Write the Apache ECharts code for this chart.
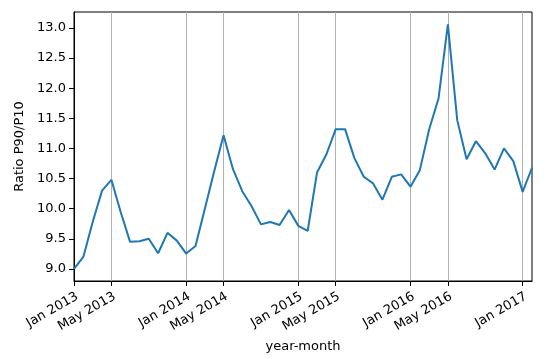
<!DOCTYPE html>
<html>
<head>
<meta charset="utf-8">
<script src="https://cdn.jsdelivr.net/npm/echarts@6/dist/echarts.min.js"></script>
<style>
  html, body { margin: 0; padding: 0; background: #fff; }
  #chart { width: 555px; height: 359px; }
</style>
</head>
<body>
<div id="chart"></div>
<script>
// Months from Jan 2013 to Feb 2017
const months = [
  '2013-01','2013-02','2013-03','2013-04','2013-05','2013-06','2013-07','2013-08','2013-09','2013-10','2013-11','2013-12',
  '2014-01','2014-02','2014-03','2014-04','2014-05','2014-06','2014-07','2014-08','2014-09','2014-10','2014-11','2014-12',
  '2015-01','2015-02','2015-03','2015-04','2015-05','2015-06','2015-07','2015-08','2015-09','2015-10','2015-11','2015-12',
  '2016-01','2016-02','2016-03','2016-04','2016-05','2016-06','2016-07','2016-08','2016-09','2016-10','2016-11','2016-12',
  '2017-01','2017-02'
];
const ratio = [
  9.00, 9.20, 9.78, 10.30, 10.48, 9.94, 9.45, 9.46, 9.50, 9.26, 9.60, 9.47,
  9.255, 9.38, 10.00, 10.62, 11.22, 10.66, 10.29, 10.04, 9.74, 9.78, 9.73, 9.98,
  9.715, 9.63, 10.60, 10.90, 11.32, 11.32, 10.84, 10.53, 10.42, 10.15, 10.53, 10.57,
  10.365, 10.64, 11.32, 11.83, 13.06, 11.47, 10.82, 11.12, 10.92, 10.65, 11.00, 10.79,
  10.28, 10.68
];
const yTicks = [9.0, 9.5, 10.0, 10.5, 11.0, 11.5, 12.0, 12.5, 13.0];
const monthNames = ['Jan','Feb','Mar','Apr','May','Jun','Jul','Aug','Sep','Oct','Nov','Dec'];
const tickMonths = [1, 5];

const FONT = 'DejaVu Sans';
const isTick = (idx, val) => tickMonths.includes(parseInt(String(val).slice(5, 7), 10));

const chart = echarts.init(document.getElementById('chart'), null, { renderer: 'canvas' });
chart.setOption({
  animation: false,
  backgroundColor: '#fff',
  textStyle: { fontFamily: FONT },
  grid: {
    left: 74, right: 23, top: 12, bottom: 78,
    show: true, borderColor: '#000', borderWidth: 1, backgroundColor: 'transparent'
  },
  xAxis: {
    type: 'category',
    data: months,
    boundaryGap: false,
    name: 'year-month',
    nameLocation: 'middle',
    nameGap: 58,
    nameTextStyle: { fontFamily: FONT, fontSize: 13, color: '#000' },
    axisLine: { lineStyle: { color: '#000', width: 1 } },
    axisTick: { show: true, interval: isTick, length: 5, lineStyle: { color: '#000' } },
    axisLabel: {
      interval: isTick,
      rotate: 30,
      margin: 9,
      align: 'right',
      verticalAlign: 'top',
      fontFamily: FONT, fontSize: 13, color: '#000',
      formatter: (val) => monthNames[parseInt(val.slice(5, 7), 10) - 1] + ' ' + val.slice(0, 4)
    },
    splitLine: { show: true, interval: isTick, lineStyle: { color: '#b0b0b0', width: 1 } }
  },
  yAxis: {
    type: 'value',
    min: 8.8,
    max: 13.265,
    name: 'Ratio P90/P10',
    nameLocation: 'middle',
    nameGap: 46,
    nameTextStyle: { fontFamily: FONT, fontSize: 13, color: '#000' },
    axisLine: { show: true, lineStyle: { color: '#000', width: 1 } },
    axisTick: { show: true, length: 5, customValues: yTicks, lineStyle: { color: '#000' } },
    axisLabel: {
      customValues: yTicks,
      margin: 8,
      fontFamily: FONT, fontSize: 13, color: '#000',
      formatter: (v) => Number(v).toFixed(1)
    },
    splitLine: { show: false }
  },
  series: [{
    type: 'line',
    data: ratio,
    showSymbol: false,
    symbol: 'none',
    lineStyle: { color: '#1f77b4', width: 2 },
    itemStyle: { color: '#1f77b4' }
  }]
});
</script>
</body>
</html>
